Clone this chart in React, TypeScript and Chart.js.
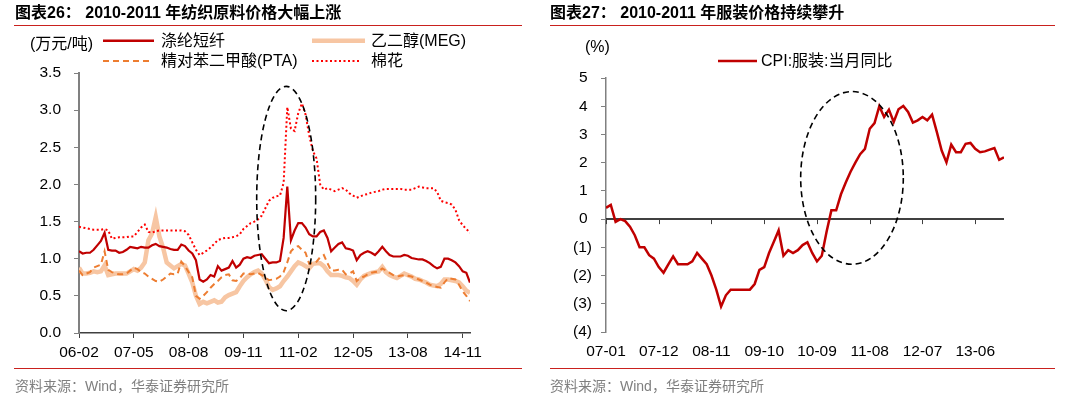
import React, { useEffect, useRef } from 'react';
import { Chart, registerables } from 'chart.js';

Chart.register(...registerables);

const FONT = '"Liberation Sans", "Noto Sans CJK SC", Arial, sans-serif';

// ---------- Left chart: monthly, starting 2006-02 ----------
const LEFT_TICK_LABELS = ['06-02', '07-05', '08-08', '09-11', '11-02', '12-05', '13-08', '14-11'];
const LEFT_TICK_STEP = 15;
const LEFT_X_MAX = 107;

const PSF = [
  1.10, 1.07, 1.08, 1.08, 1.12, 1.18, 1.24, 1.35, 1.12, 1.11,
  1.11, 1.08, 1.09, 1.12, 1.16, 1.15, 1.14, 1.16, 1.15, 1.15,
  1.18, 1.20, 1.17, 1.16, 1.15, 1.13, 1.12, 1.12, 1.19, 1.17,
  1.11, 1.07, 0.98, 0.72, 0.69, 0.72, 0.78, 0.76, 0.90, 0.84,
  0.86, 0.88, 0.97, 0.88, 0.92, 1.00, 1.02, 1.01, 1.04, 1.05,
  1.06, 1.00, 0.94, 0.95, 0.95, 0.97, 1.28, 1.97, 1.25, 1.38,
  1.48, 1.48, 1.42, 1.33, 1.30, 1.30, 1.36, 1.38, 1.28, 1.10,
  1.15, 1.20, 1.22, 1.14, 1.13, 1.11, 0.98, 1.05, 1.08, 1.10,
  1.08, 1.05, 1.10, 1.16, 1.10, 1.05, 1.03, 1.03, 1.03, 1.05,
  1.04, 1.01, 1.00, 0.99, 0.99, 0.97, 0.94, 0.90, 0.87, 0.89,
  1.00, 1.00, 0.98, 0.95, 0.90, 0.83, 0.81, 0.68,
];

const MEG = [
  0.88, 0.80, 0.80, 0.81, 0.83, 0.82, 0.83, 0.91, 0.78, 0.79,
  0.80, 0.80, 0.80, 0.80, 0.83, 0.86, 0.84, 0.88, 0.95, 1.25,
  1.34, 1.56, 1.30, 1.15, 0.95, 0.91, 0.87, 0.90, 0.93, 0.91,
  0.80, 0.68, 0.50, 0.39, 0.42, 0.40, 0.42, 0.44, 0.41, 0.42,
  0.48, 0.51, 0.53, 0.55, 0.63, 0.70, 0.75, 0.79, 0.82, 0.84,
  0.80, 0.72, 0.62, 0.58, 0.60, 0.63, 0.70, 0.76, 0.83, 0.90,
  0.95, 0.93, 0.90, 0.87, 0.93, 0.94, 0.94, 0.90, 0.83, 0.78,
  0.78, 0.78, 0.77, 0.75, 0.74, 0.70, 0.65, 0.72, 0.77, 0.79,
  0.81, 0.82, 0.83, 0.89, 0.82, 0.78, 0.76, 0.74, 0.77, 0.80,
  0.78, 0.76, 0.73, 0.72, 0.70, 0.68, 0.65, 0.64, 0.63, 0.66,
  0.72, 0.72, 0.71, 0.70, 0.68, 0.63, 0.57, 0.54,
];

const PTA = [
  0.84, 0.78, 0.80, 0.82, 0.88, 0.90, 0.92, 1.10, 0.85, 0.82,
  0.80, 0.79, 0.79, 0.80, 0.84, 0.88, 0.86, 0.82, 0.80, 0.76,
  0.73, 0.70, 0.69, 0.72, 0.76, 0.80, 0.79, 0.80, 0.96, 0.90,
  0.82, 0.75, 0.50, 0.46, 0.50, 0.55, 0.61, 0.66, 0.70, 0.75,
  0.78, 0.79, 0.71, 0.70, 0.74, 0.80, 0.80, 0.79, 0.80, 0.81,
  0.78, 0.75, 0.71, 0.72, 0.73, 0.76, 0.82, 0.95, 1.10, 1.15,
  1.17, 1.12, 1.08, 0.93, 0.94, 0.96, 1.02, 1.05, 0.94, 0.84,
  0.84, 0.85, 0.85, 0.79, 0.80, 0.83, 0.70, 0.74, 0.76, 0.79,
  0.81, 0.82, 0.83, 0.87, 0.84, 0.81, 0.78, 0.76, 0.77, 0.78,
  0.77, 0.76, 0.74, 0.72, 0.70, 0.68, 0.65, 0.63, 0.62, 0.61,
  0.68, 0.74, 0.73, 0.72, 0.65, 0.56, 0.50, 0.43,
];

const COTTON = [
  1.43, 1.42, 1.41, 1.40, 1.39, 1.39, 1.39, 1.40, 1.38, 1.27,
  1.28, 1.29, 1.29, 1.29, 1.30, 1.30, 1.36, 1.42, 1.46, 1.36,
  1.35, 1.37, 1.38, 1.38, 1.38, 1.38, 1.38, 1.38, 1.38, 1.37,
  1.32, 1.22, 1.12, 1.05, 1.08, 1.11, 1.15, 1.20, 1.25, 1.27,
  1.28, 1.28, 1.29, 1.30, 1.33, 1.40, 1.44, 1.48, 1.50, 1.53,
  1.58, 1.68, 1.78, 1.82, 1.84, 1.85, 2.02, 3.04, 2.75, 2.72,
  2.96, 3.09, 2.94, 2.66, 2.45, 2.35, 2.00, 1.93, 1.95, 1.93,
  1.91, 1.93, 1.95, 1.93, 1.88, 1.85, 1.82, 1.84, 1.86, 1.87,
  1.89, 1.90, 1.91, 1.93, 1.94, 1.94, 1.94, 1.94, 1.94, 1.93,
  1.93, 1.93, 1.95, 1.97, 1.96, 1.95, 1.95, 1.95, 1.90, 1.78,
  1.76, 1.75, 1.73, 1.66, 1.52, 1.45, 1.40, 1.35,
];

// ---------- Right chart: monthly, starting 2007-01 ----------
const RIGHT_TICK_LABELS = ['07-01', '07-12', '08-11', '09-10', '10-09', '11-08', '12-07', '13-06'];
const RIGHT_TICK_STEP = 11;
const RIGHT_X_MAX = 83;

const CPI_CLOTHING = [
  0.40, 0.50, -0.10, 0.00, -0.07, -0.27, -0.57, -1.00, -1.00, -1.28,
  -1.40, -1.70, -1.90, -1.60, -1.32, -1.60, -1.60, -1.60, -1.50, -1.20,
  -1.40, -1.60, -2.00, -2.50, -3.10, -2.70, -2.50, -2.50, -2.50, -2.50,
  -2.50, -2.30, -1.80, -1.70, -1.20, -0.80, -0.40, -1.30, -1.10, -1.20,
  -1.10, -0.92, -0.82, -1.20, -1.50, -1.30, -0.45, 0.31, 0.31, 0.88,
  1.30, 1.68, 2.00, 2.30, 2.49, 3.20, 3.40, 4.00, 3.62, 3.88,
  3.44, 3.89, 4.01, 3.80, 3.42, 3.50, 3.62, 3.50, 3.70, 3.08,
  2.43, 2.01, 2.64, 2.37, 2.37, 2.67, 2.70, 2.49, 2.37, 2.40,
  2.46, 2.52, 2.10, 2.19,
];

// annotation ellipses in data units
const LEFT_ELLIPSE = { cx: 56.7, cy: 1.81, rx: 8.07, ry: 1.51 };
const RIGHT_ELLIPSE = { cx: 51.3, cy: 1.46, rx: 10.7, ry: 3.06 };

const toXY = (arr: number[]) => arr.map((v, i) => ({ x: i, y: v }));

function ellipsePlugin(e: { cx: number; cy: number; rx: number; ry: number }) {
  return {
    id: 'ellipseNote',
    afterDatasetsDraw(chart: any) {
      const { ctx, scales } = chart;
      const x = scales.x;
      const y = scales.y;
      const cx = x.getPixelForValue(e.cx);
      const cy = y.getPixelForValue(e.cy);
      const rx = Math.abs(x.getPixelForValue(e.cx + e.rx) - cx);
      const ry = Math.abs(y.getPixelForValue(e.cy + e.ry) - cy);
      ctx.save();
      ctx.beginPath();
      ctx.setLineDash([6, 4]);
      ctx.lineWidth = 1.6;
      ctx.strokeStyle = '#000';
      ctx.ellipse(cx, cy, rx, ry, 0, 0, Math.PI * 2);
      ctx.stroke();
      ctx.restore();
    },
  };
}

const zeroLinePlugin = {
  id: 'zeroLine',
  beforeDatasetsDraw(chart: any) {
    const { ctx, chartArea, scales } = chart;
    const x = scales.x;
    const y0 = scales.y.getPixelForValue(0);
    ctx.save();
    ctx.strokeStyle = '#000';
    ctx.lineWidth = 1.5;
    ctx.beginPath();
    ctx.moveTo(chartArea.left, y0);
    ctx.lineTo(chartArea.right, y0);
    ctx.stroke();
    ctx.lineWidth = 1;
    ctx.strokeStyle = '#404040';
    ctx.beginPath();
    x.ticks.forEach((t: any) => {
      const px = Math.round(x.getPixelForValue(t.value)) + 0.5;
      ctx.moveTo(px, y0);
      ctx.lineTo(px, y0 + 5);
    });
    ctx.stroke();
    ctx.restore();
  },
};

const Txt = ({ x, cy, size, bold, color, children }: any) => (
  <div
    style={{
      position: 'absolute',
      left: x,
      top: cy - size * 0.6,
      fontSize: size,
      lineHeight: `${size * 1.2}px`,
      whiteSpace: 'nowrap',
      fontWeight: bold ? 700 : 400,
      color: color || '#000',
      fontFamily: FONT,
    }}
  >
    {children}
  </div>
);

// fixed-size vertical axis: no extra label overflow padding
const fixYAxis = (w: number) => (s: any) => {
  s.width = w;
  s.paddingTop = 0;
  s.paddingBottom = 0;
};

export default function App() {
  const leftRef = useRef<HTMLCanvasElement>(null);
  const rightRef = useRef<HTMLCanvasElement>(null);

  useEffect(() => {
    Chart.defaults.font.family = FONT;
    Chart.defaults.color = '#000';
    const tickFont = { size: 15.5, family: FONT };

    const left = new Chart(leftRef.current as HTMLCanvasElement, {
      type: 'line',
      data: {
        datasets: [
          { label: '棉花', data: toXY(COTTON), borderColor: '#FF0000', borderWidth: 2, borderDash: [2, 2.5], pointRadius: 0, tension: 0 },
          { label: '涤纶短纤', data: toXY(PSF), borderColor: '#C00000', borderWidth: 2.2, pointRadius: 0, tension: 0 },
          { label: '精对苯二甲酸(PTA)', data: toXY(PTA), borderColor: '#ED7D31', borderWidth: 2, borderDash: [6, 4], pointRadius: 0, tension: 0 },
          { label: '乙二醇(MEG)', data: toXY(MEG), borderColor: '#F7C6A3', borderWidth: 4.5, pointRadius: 0, tension: 0 },
        ],
      },
      options: {
        animation: false,
        responsive: false,
        layout: { padding: { top: 13, right: 50, left: 0, bottom: 0 } },
        plugins: { legend: { display: false }, tooltip: { enabled: false } },
        scales: {
          x: {
            type: 'linear',
            min: 0,
            max: LEFT_X_MAX,
            afterBuildTicks: (s: any) => {
              s.ticks = LEFT_TICK_LABELS.map((_, i) => ({ value: i * LEFT_TICK_STEP }));
            },
            afterFit: (s: any) => { s.height = 27; },
            ticks: {
              font: tickFont,
              color: '#000',
              padding: 5,
              maxRotation: 0,
              autoSkip: false,
              callback: (v: any) => LEFT_TICK_LABELS[Math.round(Number(v) / LEFT_TICK_STEP)] ?? '',
            },
            grid: { drawOnChartArea: false, drawTicks: true, tickLength: 5, color: '#404040', lineWidth: 1 },
            border: { display: true, color: '#404040', width: 1.5 },
          },
          y: {
            min: 0,
            max: 3.5,
            afterFit: fixYAxis(79),
            ticks: {
              stepSize: 0.5,
              font: tickFont,
              color: '#000',
              padding: 13,
              callback: (v: any) => Number(v).toFixed(1),
            },
            grid: { drawOnChartArea: false, drawTicks: true, tickLength: 5, color: '#808080', lineWidth: 1 },
            border: { display: true, color: '#808080', width: 2 },
          },
        },
      },
      plugins: [ellipsePlugin(LEFT_ELLIPSE)],
    } as any);

    const right = new Chart(rightRef.current as HTMLCanvasElement, {
      type: 'line',
      data: {
        datasets: [
          { label: 'CPI:服装:当月同比', data: toXY(CPI_CLOTHING), borderColor: '#C00000', borderWidth: 2.5, pointRadius: 0, tension: 0 },
        ],
      },
      options: {
        animation: false,
        responsive: false,
        layout: { padding: { top: 18, right: 51, left: 0, bottom: 0 } },
        plugins: { legend: { display: false }, tooltip: { enabled: false } },
        scales: {
          x: {
            type: 'linear',
            min: 0,
            max: RIGHT_X_MAX,
            afterBuildTicks: (s: any) => {
              s.ticks = RIGHT_TICK_LABELS.map((_, i) => ({ value: i * RIGHT_TICK_STEP }));
            },
            afterFit: (s: any) => { s.height = 28; },
            ticks: {
              font: tickFont,
              color: '#000',
              padding: 10,
              maxRotation: 0,
              autoSkip: false,
              callback: (v: any) => RIGHT_TICK_LABELS[Math.round(Number(v) / RIGHT_TICK_STEP)] ?? '',
            },
            grid: { display: false, drawTicks: false },
            border: { display: false },
          },
          y: {
            min: -4,
            max: 5,
            afterFit: fixYAxis(71),
            ticks: {
              stepSize: 1,
              font: tickFont,
              color: '#000',
              padding: 9,
              callback: (v: any) => (Number(v) < 0 ? `(${-Number(v)})` : `${v} `),
            },
            grid: { drawOnChartArea: false, drawTicks: true, tickLength: 5, color: '#808080', lineWidth: 1 },
            border: { display: true, color: '#808080', width: 1.5 },
          },
        },
      },
      plugins: [zeroLinePlugin, ellipsePlugin(RIGHT_ELLIPSE)],
    } as any);

    return () => {
      left.destroy();
      right.destroy();
    };
  }, []);

  const RULE = '#C9211E';

  return (
    <div style={{ position: 'absolute', left: 0, top: 0, width: 1067, height: 396, background: '#fff', fontFamily: FONT, overflow: 'hidden' }}>
      <canvas ref={leftRef} width={520} height={300} style={{ position: 'absolute', left: 0, top: 60 }} />
      <canvas ref={rightRef} width={520} height={300} style={{ position: 'absolute', left: 535, top: 60 }} />

      <svg width={1067} height={396} style={{ position: 'absolute', left: 0, top: 0 }}>
        <line x1={14} x2={522} y1={25.5} y2={25.5} stroke={RULE} strokeWidth={1} />
        <line x1={550} x2={1055} y1={25.5} y2={25.5} stroke={RULE} strokeWidth={1} />
        <line x1={14} x2={522} y1={368.5} y2={368.5} stroke={RULE} strokeWidth={1} />
        <line x1={550} x2={1055} y1={368.5} y2={368.5} stroke={RULE} strokeWidth={1} />
        <line x1={103} x2={154} y1={40.7} y2={40.7} stroke="#C00000" strokeWidth={2.5} />
        <line x1={312} x2={365} y1={40.7} y2={40.7} stroke="#F7C6A3" strokeWidth={4.5} />
        <line x1={103} x2={150} y1={61} y2={61} stroke="#ED7D31" strokeWidth={2} strokeDasharray="6 4" />
        <line x1={312} x2={360} y1={61} y2={61} stroke="#FF0000" strokeWidth={2} strokeDasharray="2 2.5" />
        <line x1={718} x2={757} y1={61} y2={61} stroke="#C00000" strokeWidth={2.5} />
      </svg>

      <Txt x={15} cy={12.7} size={16} bold>图表26： 2010-2011 年纺织原料价格大幅上涨</Txt>
      <Txt x={550} cy={12.7} size={16} bold>图表27： 2010-2011 年服装价格持续攀升</Txt>

      <Txt x={30} cy={44} size={16}>(万元/吨)</Txt>
      <Txt x={161} cy={40.7} size={16}>涤纶短纤</Txt>
      <Txt x={371} cy={40.7} size={16}>乙二醇(MEG)</Txt>
      <Txt x={161} cy={61} size={16}>精对苯二甲酸(PTA)</Txt>
      <Txt x={371} cy={61} size={16}>棉花</Txt>

      <Txt x={585} cy={46.6} size={16}>(%)</Txt>
      <Txt x={761} cy={61} size={16}>CPI:服装:当月同比</Txt>

      <Txt x={15} cy={386} size={14} color="#7F7F7F">资料来源：Wind，华泰证券研究所</Txt>
      <Txt x={550} cy={386} size={14} color="#7F7F7F">资料来源：Wind，华泰证券研究所</Txt>
    </div>
  );
}
